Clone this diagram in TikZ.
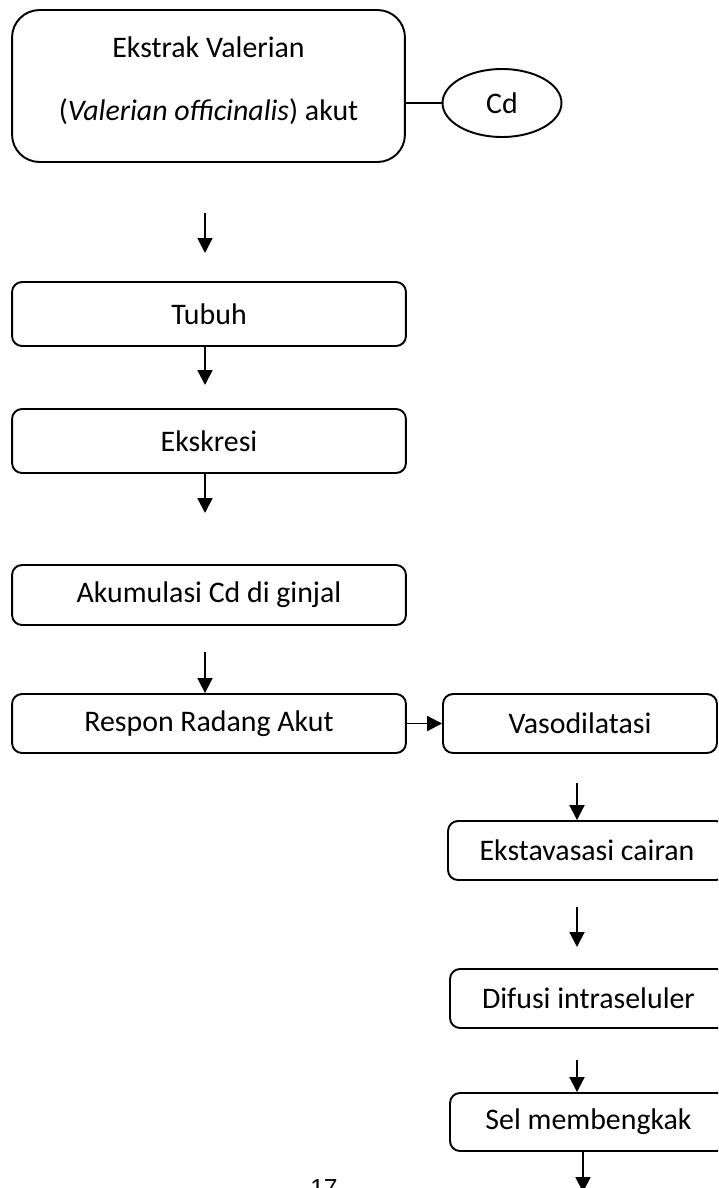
\documentclass[tikz,border=0pt]{standalone}
\usepackage{fontspec}
\setmainfont{Carlito}
\newfontfamily\pagenumfont{Liberation Sans}
\usetikzlibrary{arrows.meta,shapes.geometric}

\begin{document}
\begin{tikzpicture}[x=0.02cm,y=-0.02cm,
    font=\fontsize{17}{20}\selectfont,
    box/.style={draw,line width=1.1pt,rounded corners=0.2cm,inner sep=0pt,
      minimum width=7.88cm,minimum height=1.2cm},
    rbox/.style={box,minimum width=5.56cm,minimum height=1.18cm},
    arr/.style={line width=1.1pt,-{Triangle[width=8.5pt,length=8.5pt]}}]
  \useasboundingbox (0,0) rectangle (718,1188);
  \clip (0,0) rectangle (718,1188);
  % left column
  \node[box,rounded corners=0.55cm,minimum width=7.86cm,minimum height=3.04cm,align=center]
    (ekstrak) at (208.5,86) {Ekstrak Valerian\\[16pt](\textit{Valerian officinalis}) akut\\[-12pt]\mbox{}};
  \node[draw,line width=1.1pt,ellipse,inner sep=0pt,minimum width=2.38cm,minimum height=1.36cm]
    (cd) at (502,103) {Cd};
  \node[box,minimum height=1.28cm] (tubuh) at (209,314) {Tubuh};
  \node[box,minimum height=1.28cm] (ekskresi) at (209,441) {Ekskresi};
  \node[box] (akumulasi) at (209,595) {Akumulasi Cd di ginjal};
  \node[box,minimum height=1.18cm] (respon) at (209,723.5) {Respon Radang Akut};
  % right column
  \node[rbox,minimum width=5.48cm] (vaso) at (580,723.5) {Vasodilatasi};
  \node[rbox] (ekstav) at (587,850.5) {Ekstavasasi cairan};
  \node[rbox,minimum width=5.54cm] (difusi) at (588.5,998.5) {Difusi intraseluler};
  \node[rbox,minimum width=5.54cm,minimum height=1.16cm] (sel) at (588.5,1122) {Sel membengkak};
  \node[font=\pagenumfont\fontsize{14}{16}\selectfont,anchor=north,inner sep=0pt]
    (pagenum) at (324,1179) {17};
  % free arrow ends
  \coordinate (a1s) at (205,213);
  \coordinate (a1e) at (205,253);
  \coordinate (a2e) at (205,385);
  \coordinate (a3e) at (205,513);
  \coordinate (a4s) at (205,652);
  \coordinate (a5s) at (577,783);
  \coordinate (a6s) at (577,907);
  \coordinate (a6e) at (577,947);
  \coordinate (a7s) at (577,1060);
  \coordinate (a8e) at (583,1192);
  % connectors
  \draw[line width=1.1pt] (ekstrak.east |- cd.west) -- (cd.west);
  \draw[arr] (a1s) -- (a1e);
  \draw[arr] (tubuh.south -| a2e) -- (a2e);
  \draw[arr] (ekskresi.south -| a3e) -- (a3e);
  \draw[arr] (a4s) -- (a4s |- respon.north);
  \draw[arr] (respon.east) -- (vaso.west);
  \draw[arr] (a5s) -- (a5s |- ekstav.north);
  \draw[arr] (a6s) -- (a6e);
  \draw[arr] (a7s) -- (a7s |- sel.north);
  \draw[arr] (sel.south -| a8e) -- (a8e);
\end{tikzpicture}
\end{document}
